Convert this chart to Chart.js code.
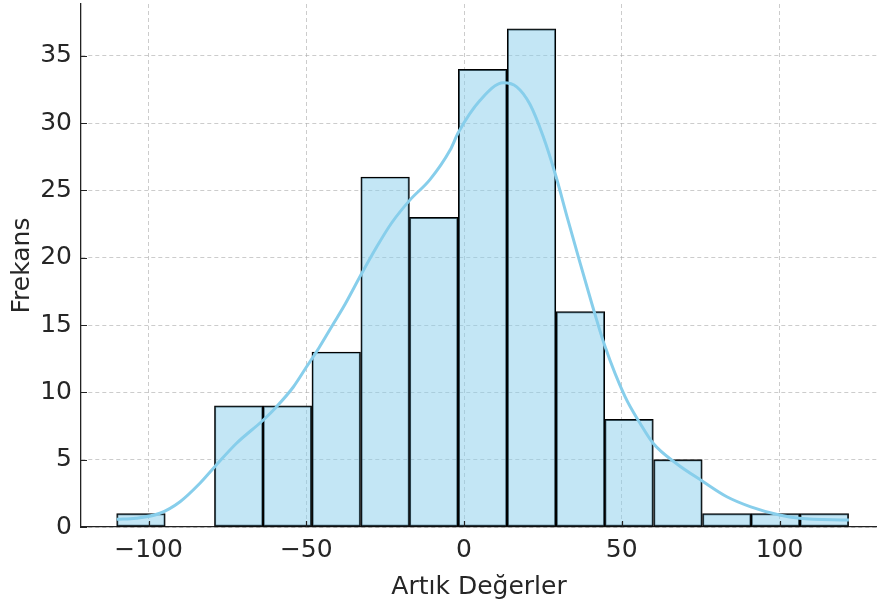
<!DOCTYPE html>
<html lang="tr">
<head>
<meta charset="UTF-8">
<title>Artık Değerler Histogramı</title>
<script src="https://cdn.jsdelivr.net/npm/chart.js"></script>
<style>
  html, body { margin: 0; padding: 0; background: #fff; }
  #wrap { width: 877px; height: 602px; }
</style>
</head>
<body>
<div id="wrap"><canvas id="myChart"></canvas></div>
<script>
// histogram bins (centre of each bin) and counts
var binCenters = [-102.4, -86.9, -71.4, -56.0, -40.5, -25.0, -9.6, 5.9, 21.4, 36.9, 52.3, 67.8, 83.3, 98.7, 114.2];
var counts = [1, 0, 9, 9, 13, 26, 23, 34, 37, 16, 8, 5, 1, 1, 1];

// kde curve
var kdeX = [-110.1, -104, -96.4, -90, -83.7, -79, -72.1, -63.6, -59.4, -54.1, -49.9, -46, -41.4, -38.3, -32.4, -27.7, -22.9, -17.1, -10.8, -4.4, -1.8, 5.1, 12.5, 16.7, 20.9, 25.1, 29.2, 32.6, 36.2, 40.5, 44.7, 51, 55.8, 60, 67.4, 75.6, 83.3, 90.9, 100, 106.3, 122];
var kdeY = [0.57, 0.65, 1.02, 1.88, 3.25, 4.48, 6.22, 7.95, 8.94, 10.4, 11.9, 13.3, 15.1, 16.3, 18.85, 20.8, 22.6, 24.3, 25.8, 28.0, 29.3, 31.7, 33.0, 32.7, 31.4, 29.0, 26.0, 23.1, 20.1, 16.6, 13.4, 9.7, 7.7, 6.2, 4.7, 3.4, 2.25, 1.5, 0.89, 0.65, 0.52];

var xTicks = [-100, -50, 0, 50, 100];
var yTicks = [0, 5, 10, 15, 20, 25, 30, 35];

var fontFam = "'DejaVu Sans', sans-serif";
var textCol = '#262626';
var gridCol = 'rgba(170,170,170,0.6)';

function fmt(v) {
    return v < 0 ? '\u2212' + Math.abs(v) : String(v);
}

// matplotlib style inward tick marks
var innerTicks = {
    id: 'innerTicks',
    afterDatasetsDraw(chart) {
        const ctx = chart.ctx;
        const xs = chart.scales.x, ys = chart.scales.y;
        const a = chart.chartArea;
        ctx.save();
        ctx.strokeStyle = '#222';
        ctx.lineWidth = 1.2;
        ctx.beginPath();
        xTicks.forEach(v => {
            const p = Math.round(xs.getPixelForValue(v)) + 0.5;
            ctx.moveTo(p, a.bottom);
            ctx.lineTo(p, a.bottom - 6);
        });
        yTicks.forEach(v => {
            const p = Math.round(ys.getPixelForValue(v)) + 0.5;
            ctx.moveTo(a.left, p);
            ctx.lineTo(a.left + 6, p);
        });
        ctx.stroke();
        ctx.restore();
    }
};

const ctx = document.getElementById('myChart');

new Chart(ctx, {
    type: 'bar',
    data: {
        datasets: [{
            type: 'line',
            data: kdeX.map((x, i) => ({x: x, y: kdeY[i]})),
            borderColor: '#87CEEB',
            borderWidth: 3,
            pointRadius: 0,
            cubicInterpolationMode: 'monotone',
            fill: false,
            order: 0
        }, {
            type: 'bar',
            data: binCenters.map((x, i) => ({x: x, y: counts[i]})),
            backgroundColor: 'rgba(135, 206, 235, 0.5)',
            borderColor: '#000',
            borderWidth: 1.3,
            borderSkipped: false,
            barPercentage: 1,
            categoryPercentage: 1,
            order: 1
        }]
    },
    options: {
        responsive: true,
        maintainAspectRatio: false,
        animation: false,
        layout: { padding: { top: 4, right: 0, left: 0, bottom: 0 } },
        plugins: {
            legend: { display: false },
            tooltip: { enabled: false }
        },
        scales: {
            x: {
                type: 'linear',
                min: -121.4,
                max: 130.9,
                offset: false,
                afterBuildTicks: s => { s.ticks = xTicks.map(v => ({value: v})); },
                afterFit: s => { s.height = 75; s.paddingLeft = 0; s.paddingRight = 0; },
                grid: {
                    offset: false,
                    color: gridCol,
                    lineWidth: 1,
                    drawTicks: false
                },
                border: { display: true, color: '#222', width: 1.3, dash: [4, 3] },
                ticks: {
                    padding: 8,
                    color: textCol,
                    font: { family: fontFam, size: 25 },
                    maxRotation: 0,
                    callback: v => fmt(v)
                },
                title: {
                    display: true,
                    text: 'Artık Değerler',
                    color: textCol,
                    font: { family: fontFam, size: 25, lineHeight: 1.2 },
                    padding: { top: 6, bottom: 0 }
                }
            },
            y: {
                min: 0,
                max: 38.85,
                afterBuildTicks: s => { s.ticks = yTicks.map(v => ({value: v})); },
                afterFit: s => { s.width = 81; s.paddingTop = 0; s.paddingBottom = 0; },
                grid: {
                    color: gridCol,
                    lineWidth: 1,
                    drawTicks: false
                },
                border: { display: true, color: '#222', width: 1.3, dash: [4, 3] },
                ticks: {
                    padding: 9,
                    color: textCol,
                    font: { family: fontFam, size: 25 },
                    callback: v => fmt(v)
                },
                title: {
                    display: true,
                    text: 'Frekans',
                    color: textCol,
                    font: { family: fontFam, size: 25, lineHeight: 1.2 },
                    padding: { top: 7, bottom: 0 }
                }
            }
        }
    },
    plugins: [innerTicks]
});
</script>
</body>
</html>
